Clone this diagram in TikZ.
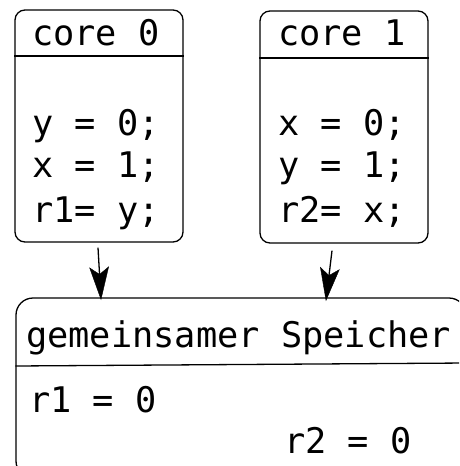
\documentclass[tikz,border=0pt]{standalone}
\usepackage{fontspec}
\setmonofont{DejaVu Sans Mono}
\usetikzlibrary{calc}
\begin{document}
\begin{tikzpicture}[x=1pt,y=-1pt,
  rule/.style={line width=1.3pt},
  corebox/.style={draw,rule,rounded corners=10pt,inner sep=0pt,
    minimum width=168pt,minimum height=232pt},
  membox/.style={draw,rule,rounded corners=17pt,inner sep=0pt,
    minimum width=450pt,minimum height=180pt},
  code/.style={inner sep=0pt,anchor=base west,font=\ttfamily\fontsize{35.3}{42}\selectfont},
  head/.style={fill=black,draw=black,line width=0.4pt,line join=miter}]
\useasboundingbox (0,0) rectangle (459,466);
\clip (0,0) rectangle (459,466);
% the two cores
\node[corebox] (c0) at (99,126) {};
\node[corebox] (c1) at (344,127) {};
\draw[rule] (c0.west |- 0,56) -- (c0.east |- 0,56);
\draw[rule] (c1.west |- 0,58) -- (c1.east |- 0,58);
\node[code] (t0) at (32,45) {core 0};
\node[code] (a0) at (32,135) {y = 0;};
\node[code] (b0) at (32,177) {x = 1;};
\node[code] (d0) at (32,222) {r1= y;};
\node[code] (t1) at (278,45) {core 1};
\node[code] (a1) at (278,135) {x = 0;};
\node[code] (b1) at (278,177) {y = 1;};
\node[code] (d1) at (278,222) {r2= x;};
% shared memory
\node[membox] (mem) at (241,388) {};
\draw[rule] (mem.west |- 0,366) -- (mem.east |- 0,363);
\node[code] (tm) at (26,347) {gemeinsamer Speicher};
\node[code] (r1) at (29,412) {r1 = 0};
\node[code] (r2) at (284,453) {r2 = 0};
% writes into memory: shaft plus a filled, notched head
\coordinate (s0) at ([xshift=-1pt,yshift=-5pt]c0.south);
\coordinate (e0) at ([xshift=2pt,yshift=-2pt]c0.south |- mem.north);
\coordinate (s1) at ([xshift=-12pt,yshift=-7pt]c1.south);
\coordinate (e1) at ([xshift=-18pt,yshift=-3pt]c1.south |- mem.north);
\foreach \s/\e in {s0/e0,s1/e1}{
  \draw[rule] (\s) -- ($(\e)!24pt!(\s)$);
  \filldraw[head] (\e) -- ($(\e)!33.4pt!16.5:(\s)$) -- ($(\e)!25pt!(\s)$)
    -- ($(\e)!33.4pt!-16.5:(\s)$) -- cycle;
}
\end{tikzpicture}
\end{document}
